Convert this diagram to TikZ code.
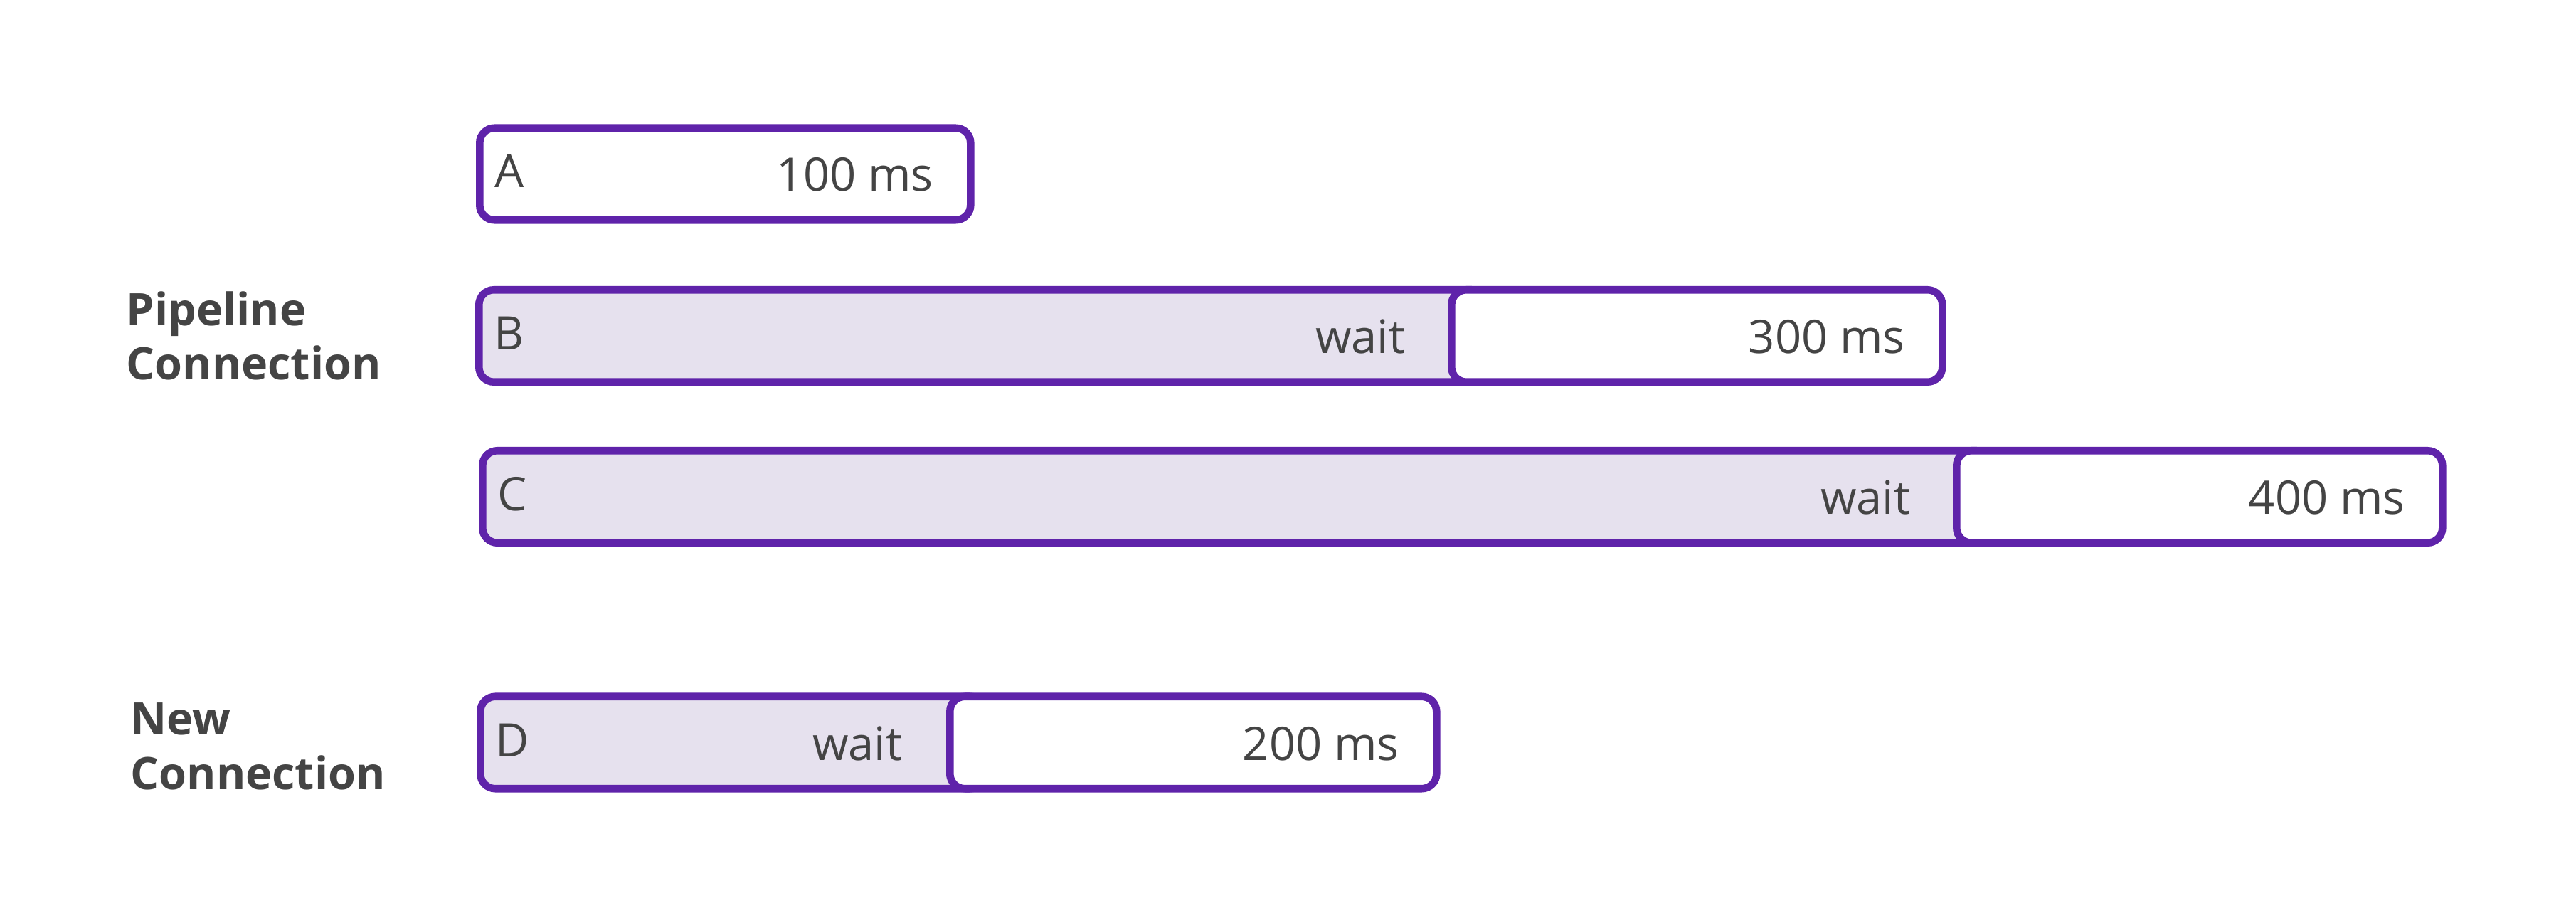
\documentclass[tikz,border=0pt]{standalone}
\usepackage{fontspec}
\setmainfont{Open Sans}
\usepackage{xcolor}
\definecolor{mypurple}{RGB}{95,35,170}
\definecolor{mylavender}{RGB}{230,225,238}
\definecolor{mygray}{RGB}{68,68,68}
\usepackage{tikz}
\usetikzlibrary{positioning}
\newcommand{\barheight}{1.295cm}
\newcommand{\runwidth}{6.9cm}
\tikzset{
    common/.style={anchor=west, draw=mypurple, line width=3pt, rounded corners=2.1mm, minimum height=\barheight, inner sep=0pt},
    waitbar/.style={common, fill=mylavender},
    runbar/.style={common, fill=white, minimum width=\runwidth},
    txt/.style={inner sep=0pt, text=mygray, font=\fontsize{18.5}{22}\selectfont},
    letter/.style={txt, text height=0.39cm, text depth=0pt},
    timing/.style={txt, text height=0.49cm, text depth=0pt},
    group/.style={txt, anchor=base west, align=left, font=\fontsize{17.9}{21.9}\selectfont\bfseries}
}

\begin{document}
\begin{tikzpicture}
    \useasboundingbox (0,0) rectangle (36.21,12.96);

    % pipeline connection
    \node[group] (pipeline) at (1.77,7.62) {Pipeline\\Connection};

    \node[runbar] (a-run) at (6.69,10.515) {};
    \node[letter, right=0.26cm of a-run.west] (a) {A};
    \node[timing, left=0.57cm of a-run.east] (a-time) {100 ms};

    \node[waitbar, minimum width=14.16cm] (b-wait) at (6.68,8.24) {};
    \node[runbar] (b-run) at (20.35,8.24) {};
    \node[letter, right=0.26cm of b-wait.west] (b) {B};
    \node[timing, left=0.59cm of b-run.west] (b-waittext) {wait};
    \node[timing, left=0.57cm of b-run.east] (b-time) {300 ms};

    \node[waitbar, minimum width=21.21cm] (c-wait) at (6.73,5.98) {};
    \node[runbar, minimum width=6.83cm] (c-run) at (27.45,5.98) {};
    \node[letter, right=0.26cm of c-wait.west] (c) {C};
    \node[timing, left=0.59cm of c-run.west] (c-waittext) {wait};
    \node[timing, left=0.57cm of c-run.east] (c-time) {400 ms};

    % new connection
    \node[group] (newconn) at (1.83,1.87) {New\\Connection};

    \node[waitbar, minimum width=7.09cm] (d-wait) at (6.70,2.525) {};
    \node[runbar, minimum width=6.84cm] (d-run) at (13.30,2.525) {};
    \node[letter, right=0.26cm of d-wait.west] (d) {D};
    \node[timing, left=0.61cm of d-run.west] (d-waittext) {wait};
    \node[timing, left=0.57cm of d-run.east] (d-time) {200 ms};
\end{tikzpicture}
\end{document}
